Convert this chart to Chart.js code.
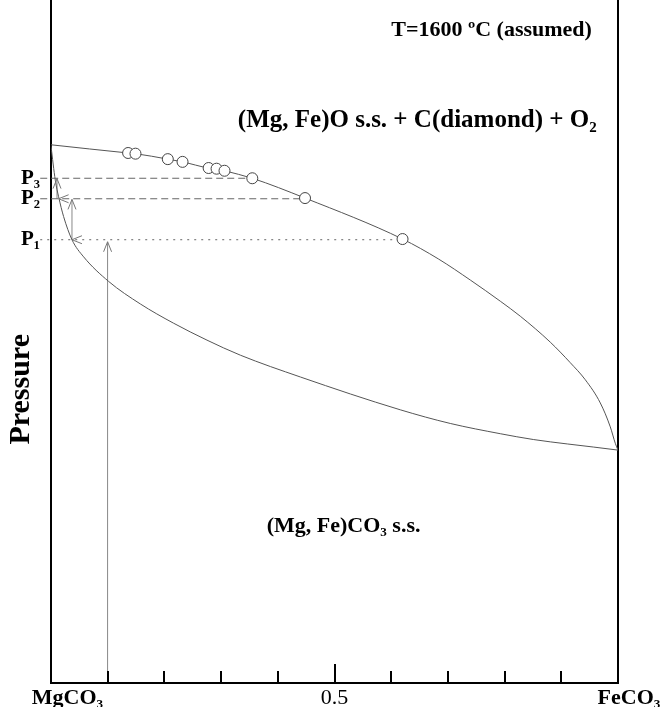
<!DOCTYPE html>
<html>
<head>
<meta charset="utf-8">
<script src="https://cdn.jsdelivr.net/npm/chart.js@4.4.1/dist/chart.umd.min.js"></script>
<style>
  html, body { margin: 0; padding: 0; background: #fff; }
  canvas { display: block; }
</style>
</head>
<body>
<canvas id="phase" width="664" height="707"></canvas>
<script>
// ─── DATOS ─────────────────────────────────────────────────────
// composición: 0 = MgCO3, 1 = FeCO3 ; presión en unidades arbitrarias (0-100)
const upperX = [0, 0.136, 0.149, 0.206, 0.232, 0.278, 0.292, 0.306, 0.355, 0.448, 0.620, 0.683, 0.7395, 0.7924, 0.8277, 0.8806, 0.9158, 0.9423, 0.9688, 0.9864, 0.9952, 1];
const upperP = [78.8, 77.6, 77.5, 76.7, 76.3, 75.4, 75.3, 75.0, 73.9, 71.0, 65.0, 62.1, 59.0, 55.9, 53.7, 49.9, 46.9, 44.4, 41.0, 37.5, 35.1, 34.1];

const lowerX = [0, 0.0076, 0.0134, 0.0222, 0.037, 0.0575, 0.1016, 0.1575, 0.2157, 0.2751, 0.3339, 0.44, 0.616, 0.7042, 0.7924, 0.8506, 0.9105, 0.9564, 1];
const lowerP = [78.6, 73.6, 71.2, 68.3, 64.9, 62.4, 58.8, 55.5, 52.7, 50.2, 48.0, 44.8, 40.0, 38.0, 36.5, 35.65, 35.0, 34.55, 34.1];

const expX = [0.136, 0.149, 0.206, 0.232, 0.278, 0.292, 0.306, 0.355, 0.448, 0.620];
const expP = [77.6, 77.5, 76.7, 76.3, 75.4, 75.3, 75.0, 73.9, 71.0, 65.0];

const pLevels = [64.9, 70.9, 73.9];
const pLabels = ['P\u2081', 'P\u2082', 'P\u2083'];
const pEndX = [0.620, 0.448, 0.355];   // donde cada nivel toca la curva superior
const pStartX = -0.019;                // las guías cruzan el eje izquierdo

const xTickValues = [0, 0.1, 0.2, 0.3, 0.4, 0.5, 0.6, 0.7, 0.8, 0.9, 1];
const xTickLabels = ['      MgCO\u2083', '', '', '', '', '0.5', '', '', '', '', '    FeCO\u2083'];

// flechas del camino de compresión: [x0, p0, x1, p1, con trazo]
const arrowPath = [
    [0.0998, 0, 0.0998, 64.6, true],
    [0.620, 64.9, 0.037, 64.9, false],
    [0.037, 64.9, 0.037, 70.8, true],
    [0.037, 70.9, 0.0134, 70.9, false],
    [0.0106, 70.9, 0.0106, 73.85, true]
];

const SERIF = "'Liberation Serif', 'DejaVu Serif', serif";

// ─── HELPERS ───────────────────────────────────────────────────
const zip = (xs, ys) => xs.map((x, i) => ({ x: x, y: ys[i] }));

const guideDash = [[2, 5], [7, 4], [7, 4]];

const datasets = [
    {
        label: 'exp',
        data: zip(expX, expP),
        pointStyle: 'circle',
        pointRadius: 5.5,
        pointBackgroundColor: '#fff',
        pointBorderColor: '#444',
        pointBorderWidth: 1,
        showLine: false
    },
    {
        label: 'upper',
        data: zip(upperX, upperP),
        showLine: true,
        borderColor: '#555',
        borderWidth: 1,
        pointRadius: 0,
        cubicInterpolationMode: 'monotone'
    },
    {
        label: 'lower',
        data: zip(lowerX, lowerP),
        showLine: true,
        borderColor: '#555',
        borderWidth: 1,
        pointRadius: 0,
        cubicInterpolationMode: 'monotone'
    }
];

pLevels.forEach((p, i) => {
    datasets.push({
        label: pLabels[i],
        data: [{ x: pStartX, y: p }, { x: pEndX[i], y: p }],
        showLine: true,
        borderColor: '#666',
        borderWidth: 1,
        borderDash: guideDash[i],
        pointRadius: 0,
        clip: false
    });
});

arrowPath.filter(a => a[4]).forEach(a => {
    datasets.push({
        label: 'arrow',
        data: [{ x: a[0], y: a[1] }, { x: a[2], y: a[3] }],
        showLine: true,
        borderColor: '#888',
        borderWidth: 1,
        pointRadius: 0,
        clip: false
    });
});

// ─── PLUGIN: ticks internos, puntas de flecha y textos ─────────
const overlay = {
    id: 'overlay',
    afterDraw(chart) {
        const { ctx, scales: { x, y } } = chart;
        ctx.save();

        // ticks hacia adentro
        ctx.strokeStyle = '#000';
        ctx.lineWidth = 2;
        xTickValues.slice(1, -1).forEach(v => {
            const px = Math.round(x.getPixelForValue(v));
            const len = v === 0.5 ? 19 : 12;
            ctx.beginPath();
            ctx.moveTo(px, y.bottom);
            ctx.lineTo(px, y.bottom - len);
            ctx.stroke();
        });

        // puntas abiertas
        ctx.strokeStyle = '#777';
        ctx.lineWidth = 1;
        arrowPath.forEach(a => {
            const x0 = x.getPixelForValue(a[0]), y0 = y.getPixelForValue(a[1]);
            const x1 = x.getPixelForValue(a[2]), y1 = y.getPixelForValue(a[3]);
            const d = Math.hypot(x1 - x0, y1 - y0);
            const ux = (x1 - x0) / d, uy = (y1 - y0) / d;
            const L = 10, W = 4;
            ctx.beginPath();
            ctx.moveTo(x1 - ux * L - uy * W, y1 - uy * L + ux * W);
            ctx.lineTo(x1, y1);
            ctx.lineTo(x1 - ux * L + uy * W, y1 - uy * L - ux * W);
            ctx.stroke();
        });

        // textos
        ctx.fillStyle = '#000';
        ctx.textAlign = 'center';
        ctx.textBaseline = 'alphabetic';
        ctx.font = `bold 22px ${SERIF}`;
        ctx.fillText('T=1600 \u00BAC (assumed)', x.getPixelForValue(0.777), y.getPixelForValue(94.8));
        ctx.fillText('(Mg, Fe)CO\u2083 s.s.', x.getPixelForValue(0.516), y.getPixelForValue(22.1));
        ctx.font = `bold 25px ${SERIF}`;
        ctx.fillText('(Mg, Fe)O s.s. + C(diamond) + O\u2082', x.getPixelForValue(0.646), y.getPixelForValue(81.4));

        ctx.translate(21, y.getPixelForValue(43.0));
        ctx.rotate(-Math.PI / 2);
        ctx.textBaseline = 'middle';
        ctx.font = `bold 30px ${SERIF}`;
        ctx.fillText('Pressure', 0, 0);

        ctx.restore();
    }
};

// ─── CHART ─────────────────────────────────────────────────────
new Chart(document.getElementById('phase').getContext('2d'), {
    type: 'scatter',
    data: { datasets: datasets },
    plugins: [overlay],
    options: {
        responsive: false,
        animation: false,
        layout: { autoPadding: false, padding: { top: 0, right: 46, bottom: 0, left: 0 } },
        plugins: {
            legend: { display: false },
            tooltip: { enabled: false }
        },
        scales: {
            x: {
                type: 'linear',
                position: 'bottom',
                min: 0,
                max: 1,
                border: { color: '#000', width: 2 },
                grid: { display: false, drawTicks: false },
                afterBuildTicks: s => { s.ticks = xTickValues.map(v => ({ value: v })); },
                ticks: {
                    autoSkip: false,
                    maxRotation: 0,
                    padding: 2,
                    color: '#000',
                    callback: (v, i) => xTickLabels[i],
                    font: c => ({
                        family: SERIF,
                        size: 22,
                        weight: c.index === 5 ? 'normal' : 'bold'
                    })
                },
                afterFit: s => { s.height = 24; s.paddingLeft = 0; s.paddingRight = 0; }
            },
            y: {
                type: 'linear',
                position: 'left',
                min: 0,
                max: 100,
                border: { color: '#000', width: 2 },
                grid: { display: false, drawTicks: false },
                afterBuildTicks: s => { s.ticks = pLevels.map(v => ({ value: v })); },
                ticks: {
                    padding: 11,
                    color: '#000',
                    callback: (v, i) => pLabels[i],
                    font: { family: SERIF, size: 21, weight: 'bold' }
                },
                afterFit: s => { s.width = 51; s.paddingTop = 0; s.paddingBottom = 0; }
            },
            y2: {
                type: 'linear',
                position: 'right',
                min: 0,
                max: 100,
                border: { color: '#000', width: 2 },
                grid: { display: false, drawTicks: false },
                ticks: { display: false },
                afterFit: s => { s.width = 0; s.paddingTop = 0; s.paddingBottom = 0; }
            }
        }
    }
});
</script>
</body>
</html>
